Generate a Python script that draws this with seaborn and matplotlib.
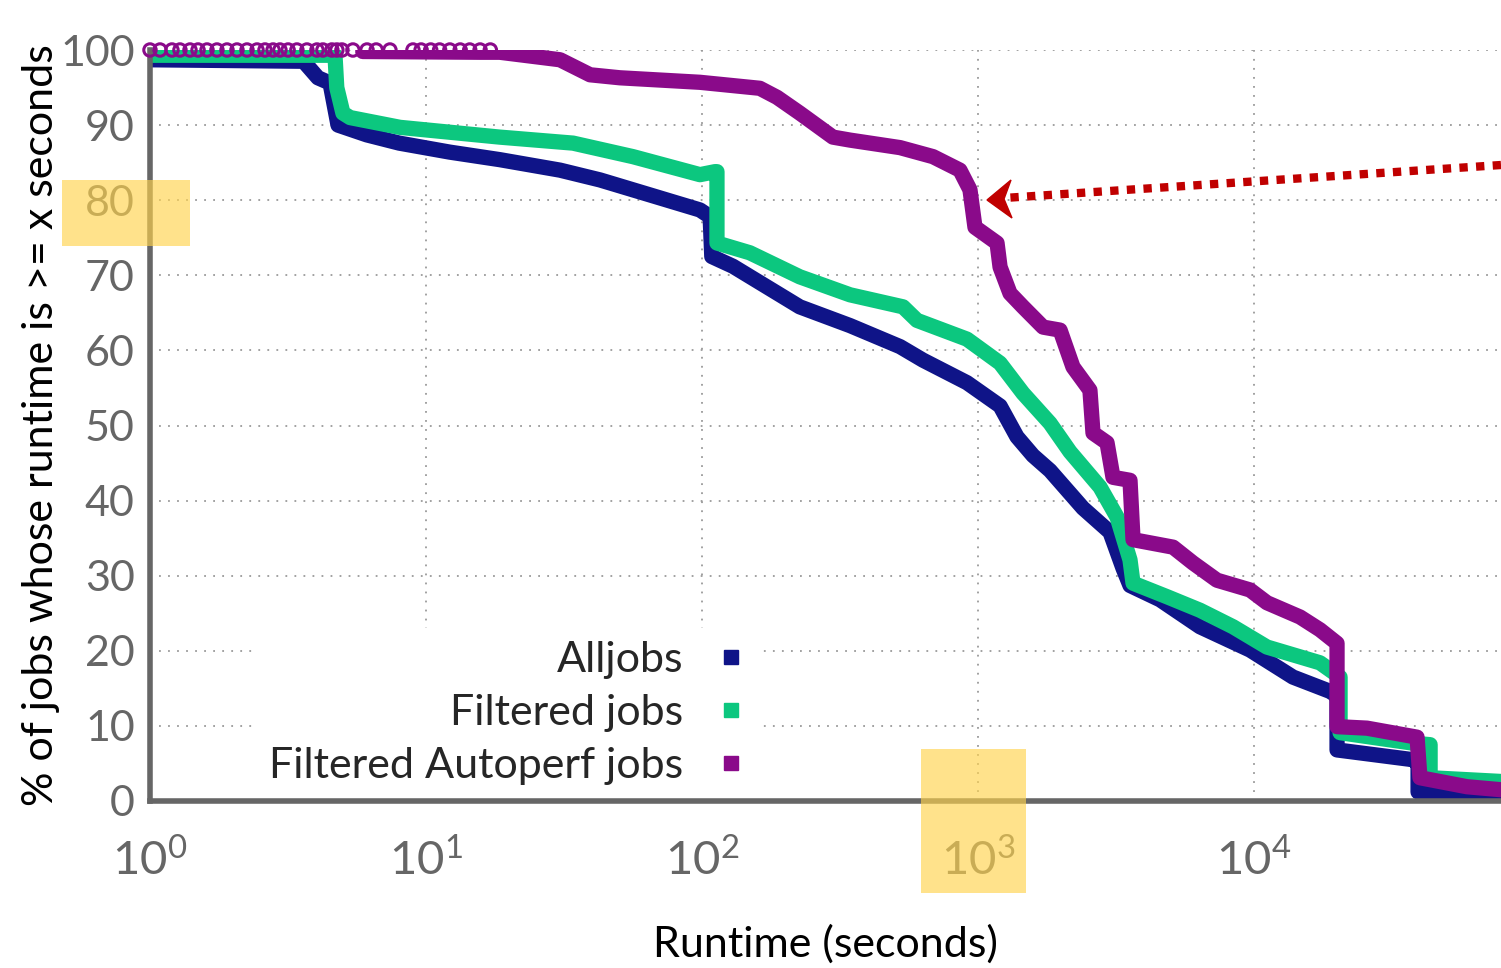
import pandas as pd
import seaborn as sns
import matplotlib.pyplot as plt
from matplotlib.lines import Line2D
from matplotlib.patches import Rectangle, Polygon

# runtime (seconds) and % of jobs whose runtime is >= x
all_x = [1, 3.6, 4.06, 4.49, 4.8, 6.1, 8.0, 12.2, 18.5, 30.6, 42.7, 64.8, 98.3, 107,
         108.5, 129.5, 226, 344, 522, 632, 912, 1202, 1384, 1582, 1824, 2400, 3007,
         3352, 3554, 4565, 6371, 9675, 13840, 18840, 19990, 19990, 37670, 39300,
         39300, 78500]
all_y = [98.7, 98.5, 96.3, 95.6, 90.0, 88.7, 87.6, 86.4, 85.4, 84.0, 82.7, 80.7, 78.7,
         77.8, 72.5, 71.2, 65.8, 63.3, 60.5, 58.7, 55.7, 52.6, 48.5, 46.0, 44.0, 39.0,
         35.8, 31.0, 28.7, 26.8, 23.2, 20.1, 16.5, 14.6, 14.0, 6.8, 5.5, 5.0, 1.2, 0.5]

filt_x = [1, 4.68, 4.75, 5.0, 5.31, 8.05, 18.5, 34.1, 56.2, 98.3, 111.5, 113.3, 113.3,
          149, 226, 344, 535, 601, 912, 1202, 1455, 1824, 2154, 2767, 3190, 3554, 3645,
          4840, 6371, 8395, 11140, 17340, 20500, 20500, 37670, 43450, 43450, 78500]
filt_y = [99.3, 99.3, 95.0, 91.6, 91.0, 89.7, 88.4, 87.6, 85.8, 83.4, 83.8, 83.8, 74.3,
          73.0, 69.8, 67.4, 65.8, 64.0, 61.5, 58.3, 54.3, 50.3, 46.5, 41.8, 37.8, 32.1,
          29.0, 27.2, 25.4, 23.2, 20.5, 18.4, 16.5, 9.1, 7.7, 7.5, 3.1, 2.6]

auto_x = [5.9, 15.7, 18.5, 30.6, 39.3, 50.4, 98.3, 162, 187, 226, 298, 344, 522, 687,
          860, 935, 975, 1172, 1202, 1306, 1455, 1721, 1983, 2208, 2544, 2610, 2934,
          3084, 3554, 3645, 5090, 6010, 7340, 9675, 11140, 14680, 17340, 19990, 19990,
          25650, 38970, 39920, 59100, 78500]
auto_y = [99.8, 99.7, 99.7, 98.7, 96.7, 96.3, 95.7, 94.9, 93.7, 91.6, 88.4, 88.0, 87.0,
          85.8, 84.0, 81.4, 76.4, 74.3, 71.1, 67.6, 65.8, 63.1, 62.7, 57.8, 54.7, 49.0,
          47.7, 43.1, 42.7, 34.8, 33.8, 31.7, 29.4, 28.1, 26.4, 24.5, 22.8, 21.0, 9.9,
          9.7, 8.5, 3.1, 1.9, 1.5]

# sparse autoperf points sitting at 100%
auto_pts_x = [1.0, 1.087, 1.201, 1.284, 1.396, 1.493, 1.609, 1.748, 1.901, 2.066, 2.246,
              2.442, 2.61, 2.792, 2.957, 3.165, 3.406, 3.703, 4.026, 4.232, 4.56, 4.754,
              4.959, 5.435, 6.114, 6.6, 7.4, 8.97, 9.6, 10.4, 11.2, 12.2, 13.3, 14.4,
              15.7, 17.1]
auto_pts_y = [100] * len(auto_pts_x)

labels = ['Alljobs', 'Filtered jobs', 'Filtered Autoperf jobs']
colors = ['#0f1488', '#0cc77f', '#8a0a8a']

sns.set_style('white')
plt.rcParams['font.family'] = ['Lato', 'DejaVu Sans']
plt.rcParams['mathtext.fontset'] = 'custom'
plt.rcParams['mathtext.rm'] = 'Lato'

W, H = 1501, 968
fig = plt.figure(figsize=(W / 100, H / 100), dpi=100)
ax = fig.add_axes([150 / W, 1 - 801 / H, (W - 150) / W, (801 - 50) / H])

for xs, ys, c in zip([all_x, filt_x, auto_x], [all_y, filt_y, auto_y], colors):
    df = pd.DataFrame({'runtime': xs, 'pct': ys})
    sns.lineplot(data=df, x='runtime', y='pct', estimator=None, sort=False,
                 color=c, linewidth=11, ax=ax, legend=False)

sns.scatterplot(x=auto_pts_x, y=auto_pts_y, marker='o', s=80, facecolors='none',
                edgecolor=colors[2], linewidth=2.2, ax=ax, clip_on=False, zorder=4)

ax.set_xscale('log')
ax.set_xlim(1, 78500)
ax.set_ylim(0, 100)
ax.set_yticks(range(0, 101, 10))

ax.grid(True, which='major', color='#9a9a9a', linestyle=(0, (1, 4)), linewidth=1.3)
ax.set_axisbelow(True)

for side in ['top', 'right']:
    ax.spines[side].set_visible(False)
for side in ['left', 'bottom']:
    ax.spines[side].set_color('#666666')
    ax.spines[side].set_linewidth(4)

ax.tick_params(axis='both', which='major', direction='in', length=15, width=3.5,
               color='#666666', labelcolor='#666666', labelsize=31)
ax.tick_params(axis='x', which='minor', direction='in', length=7, width=3.5,
               color='#666666')
ax.tick_params(axis='y', which='major', pad=11)
ax.tick_params(axis='x', which='major', pad=26, labelsize=34)

ax.set_xlabel('Runtime (seconds)', fontsize=31, labelpad=30, color='black')
ax.set_ylabel('% of jobs whose runtime is >= x seconds', fontsize=31, labelpad=0,
              color='black')

handles = [Line2D([], [], marker='s', linestyle='none', color=c, markersize=10)
           for c in colors]
leg = ax.legend(handles, labels, loc='lower right', bbox_to_anchor=(0.452, 0.004),
                markerfirst=False, fontsize=31, frameon=True, framealpha=1,
                edgecolor='none', facecolor='white', handlelength=0.8,
                handletextpad=0.7, labelspacing=0.35, borderpad=0.3,
                borderaxespad=0)

# yellow highlight boxes over the "80" and "10^3" labels
for x0, y0, x1, y1 in [(62, 180, 190, 246), (921, 749, 1026, 893)]:
    fig.add_artist(Rectangle((x0 / W, 1 - y1 / H), (x1 - x0) / W, (y1 - y0) / H,
                             transform=fig.transFigure, facecolor='#ffd34d',
                             alpha=0.65, edgecolor='none', zorder=10))

# dotted red arrow pointing at the drop near 10^3 s
fig.add_artist(Line2D([W / W, 1004 / W], [1 - 165 / H, 1 - 198 / H],
                      transform=fig.transFigure, color='#c00000', linewidth=6,
                      linestyle=(0, (1, 1)), dash_capstyle='butt', zorder=10))
head = [(987, 200), (1011, 180), (1004, 199), (1012, 218)]
fig.add_artist(Polygon([(px / W, 1 - py / H) for px, py in head], closed=True,
                       transform=fig.transFigure, facecolor='#c00000',
                       edgecolor='#c00000', linewidth=1, zorder=10))

plt.savefig('out.png', dpi=100)
